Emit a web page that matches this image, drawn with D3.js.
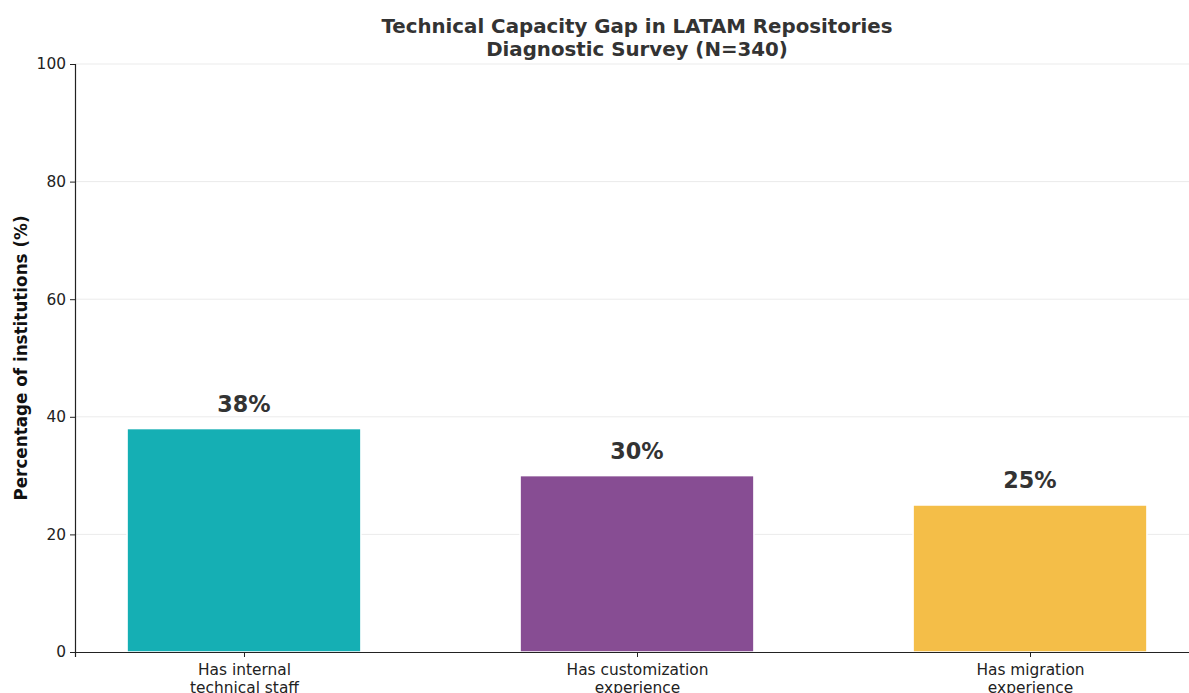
<!DOCTYPE html>
<html>
<head>
<meta charset="utf-8">
<script src="https://cdn.jsdelivr.net/npm/d3@7"></script>
<style>
  body { margin: 0; background: #fff; }
  text { font-family: "DejaVu Sans", sans-serif; }
</style>
</head>
<body>
<div id="chart"></div>
<script>
// data
var categories = ["Has internal\ntechnical staff", "Has customization\nexperience", "Has migration\nexperience"];
var values = [38, 30, 25];
var colors = ["#15AFB4", "#874D93", "#F4BE48"];
var yTicks = [0, 20, 40, 60, 80, 100];
var titleLines = ["Technical Capacity Gap in LATAM Repositories", "Diagnostic Survey (N=340)"];

// size
var W = 1189, H = 693;
var margin = {top: 64, left: 75, bottom: 41};
var plotRight = 1199; // axes run past the page edge
var svg = d3.select("#chart").append("svg").attr("width", W).attr("height", H);

var y = d3.scaleLinear().domain([0, 100]).range([H - margin.bottom, margin.top]);
// bar centres at 0,1,2 with matplotlib-like padding
var x = d3.scaleLinear().domain([-0.43, 2.43]).range([margin.left, plotRight]);
var barW = 0.595;

// grid
svg.append("g").selectAll("line").data(yTicks.slice(1)).enter().append("line")
  .attr("x1", margin.left).attr("x2", W)
  .attr("y1", function(d){ return y(d); }).attr("y2", function(d){ return y(d); })
  .attr("stroke", "#ebebeb").attr("stroke-width", 1);

// bars
svg.append("g").selectAll("rect").data(values).enter().append("rect")
  .attr("x", function(d, i){ return x(i - barW / 2); })
  .attr("width", function(d, i){ return x(i + barW / 2) - x(i - barW / 2); })
  .attr("y", function(d){ return y(d); })
  .attr("height", function(d){ return y(0) - y(d); })
  .attr("fill", function(d, i){ return colors[i]; })
  .attr("stroke", "#fff").attr("stroke-width", 1.5);

// value labels
svg.append("g").selectAll("text").data(values).enter().append("text")
  .attr("x", function(d, i){ return x(i); })
  .attr("y", function(d){ return y(d) - 17; })
  .attr("text-anchor", "middle")
  .style("font-size", "22.3px").style("font-weight", "bold").attr("fill", "#333")
  .text(function(d){ return d + "%"; });

// y axis
var yAxis = svg.append("g").attr("transform", "translate(" + margin.left + ",0)")
  .call(d3.axisLeft(y).tickValues(yTicks).tickSize(5).tickPadding(4));
yAxis.select(".domain").attr("stroke", "#222").attr("stroke-width", 1.2);
yAxis.selectAll(".tick line").attr("stroke", "#222");
yAxis.selectAll("text").style("font-size", "15.4px").attr("fill", "#222").attr("font-family", "DejaVu Sans");

// x axis
var xAxis = svg.append("g").attr("transform", "translate(0," + y(0) + ")")
  .call(d3.axisBottom(x).tickValues([0, 1, 2]).tickSize(5).tickFormat(""));
xAxis.select(".domain").attr("stroke", "#222").attr("stroke-width", 1.2);
xAxis.selectAll(".tick line").attr("stroke", "#222");
xAxis.selectAll(".tick").each(function(d){
  var t = d3.select(this).append("text").attr("text-anchor", "middle")
    .attr("fill", "#222").style("font-size", "15.4px");
  categories[d].split("\n").forEach(function(line, k){
    t.append("tspan").attr("x", 0).attr("y", 23 + k * 17.5).text(line);
  });
});

// y label
svg.append("text")
  .attr("transform", "translate(27," + (y(50)) + ") rotate(-90)")
  .attr("text-anchor", "middle")
  .style("font-size", "16.8px").style("font-weight", "bold").attr("fill", "#111")
  .text("Percentage of institutions (%)");

// title
var titleX = (margin.left + plotRight) / 2;
svg.append("g").selectAll("text").data(titleLines).enter().append("text")
  .attr("x", titleX)
  .attr("y", function(d, i){ return 33 + i * 23; })
  .attr("text-anchor", "middle")
  .style("font-size", "19.8px").style("font-weight", "bold").attr("fill", "#333")
  .text(function(d){ return d; });
</script>
</body>
</html>
